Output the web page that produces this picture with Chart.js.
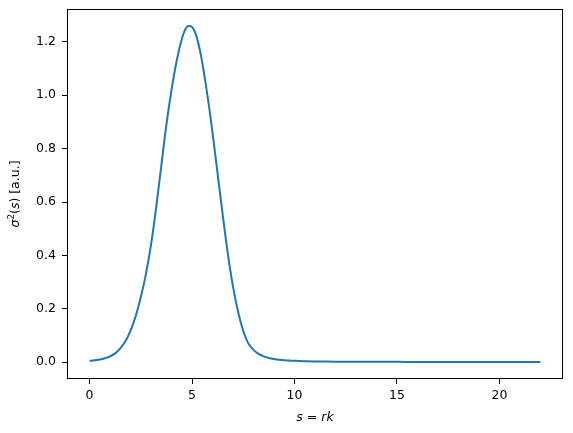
<!DOCTYPE html>
<html>
<head>
<meta charset="utf-8">
<script src="https://cdn.jsdelivr.net/npm/chart.js@4/dist/chart.umd.min.js"></script>
<style>
  html, body { margin: 0; padding: 0; background: #fff; }
  #wrap { width: 573px; height: 433px; }
</style>
</head>
<body>
<div id="wrap"><canvas id="chart" width="573" height="433"></canvas></div>
<script>
// values
const sValues = [0, 0.25, 0.5, 0.75, 1.0, 1.25, 1.5, 1.75, 2.0, 2.25, 2.5, 2.75, 3.0, 3.25, 3.5, 3.75,
  4.0, 4.25, 4.5, 4.75, 5.0, 5.25, 5.5, 5.75, 6.0, 6.25, 6.5, 6.75, 7.0, 7.25, 7.5,
  7.75, 8.0, 8.25, 8.5, 8.75, 9.0, 9.25, 9.5, 9.75, 10, 11, 12, 13, 14, 15, 16, 17, 18, 19, 20, 21, 22];
const sigmaValues = [0.005, 0.007, 0.010, 0.015, 0.022, 0.033, 0.052, 0.078, 0.118, 0.172, 0.243, 0.330, 0.440, 0.580, 0.735, 0.890,
  1.020, 1.128, 1.210, 1.256, 1.256, 1.212, 1.122, 1.000, 0.860, 0.705, 0.550, 0.405, 0.283, 0.188, 0.117,
  0.070, 0.046, 0.031, 0.022, 0.016, 0.012, 0.009, 0.007, 0.006, 0.005, 0.003, 0.002, 0.0016, 0.0014, 0.0012,
  0.0011, 0.001, 0.001, 0.001, 0.001, 0.001, 0.001];
const xTicks = [0, 5, 10, 15, 20];
const yTicks = [0, 0.2, 0.4, 0.6, 0.8, 1.0, 1.2];

const FONT = 'DejaVu Sans';
const tickFont = { family: FONT, size: 12.5 };

// box around the plot area + mathtext-like y label
const frame = {
  id: 'frame',
  afterDraw(chart) {
    const a = chart.chartArea;
    const ctx = chart.ctx;
    ctx.save();
    ctx.strokeStyle = '#000';
    ctx.lineWidth = 1;
    ctx.strokeRect(Math.round(a.left) + 0.5, Math.round(a.top) + 0.5,
      Math.round(a.right - a.left) - 1, Math.round(a.bottom - a.top) - 1);

    // y label: sigma^2(s) [a.u.]
    const runs = [
      ['σ', 'italic 12.5px ' + FONT, 0],
      ['2', '8.8px ' + FONT, -5],
      ['(', '12.5px ' + FONT, 0],
      ['s', 'italic 12.5px ' + FONT, 0],
      [') [a.u.]', '12.5px ' + FONT, 0]
    ];
    let total = 0;
    runs.forEach(r => { ctx.font = r[1]; total += ctx.measureText(r[0]).width; });
    ctx.translate(19, (a.top + a.bottom) / 2);
    ctx.rotate(-Math.PI / 2);
    ctx.fillStyle = '#000';
    ctx.textBaseline = 'alphabetic';
    ctx.textAlign = 'left';
    let x = -total / 2;
    runs.forEach(r => {
      ctx.font = r[1];
      ctx.fillText(r[0], x, r[2]);
      x += ctx.measureText(r[0]).width;
    });
    ctx.restore();
  }
};

new Chart(document.getElementById('chart'), {
  type: 'scatter',
  data: {
    datasets: [{
      data: sValues.map((s, i) => ({ x: s, y: sigmaValues[i] })),
      showLine: true,
      borderColor: '#1f77b4',
      borderWidth: 2,
      pointRadius: 0,
      tension: 0.35
    }]
  },
  options: {
    responsive: false,
    animation: false,
    devicePixelRatio: 1,
    layout: { padding: { top: 9, right: 10, left: 0, bottom: 0 } },
    plugins: { legend: { display: false }, tooltip: { enabled: false } },
    scales: {
      x: {
        type: 'linear',
        min: -1.1,
        max: 23.1,
        afterBuildTicks: (scale) => { scale.ticks = xTicks.map(v => ({ value: v })); },
        afterFit: (scale) => { scale.height = 54; scale.paddingLeft = 0; scale.paddingRight = 0; },
        ticks: { color: '#000', font: tickFont, padding: 4, maxRotation: 0 },
        grid: { drawOnChartArea: false, drawTicks: true, tickLength: 5, color: '#000' },
        border: { display: false },
        title: {
          display: true,
          text: 's = rk',
          color: '#000',
          font: { family: FONT, size: 12.5, style: 'italic' },
          padding: { top: 2, bottom: 8 }
        }
      },
      y: {
        type: 'linear',
        min: -0.063,
        max: 1.323,
        afterBuildTicks: (scale) => { scale.ticks = yTicks.map(v => ({ value: v })); },
        afterFit: (scale) => { scale.width = 67; scale.paddingTop = 0; scale.paddingBottom = 0; },
        ticks: { color: '#000', font: tickFont, padding: 6, callback: (v) => v.toFixed(1) },
        grid: { drawOnChartArea: false, drawTicks: true, tickLength: 5, color: '#000' },
        border: { display: false },
        title: { display: false }
      }
    }
  },
  plugins: [frame]
});
</script>
</body>
</html>
